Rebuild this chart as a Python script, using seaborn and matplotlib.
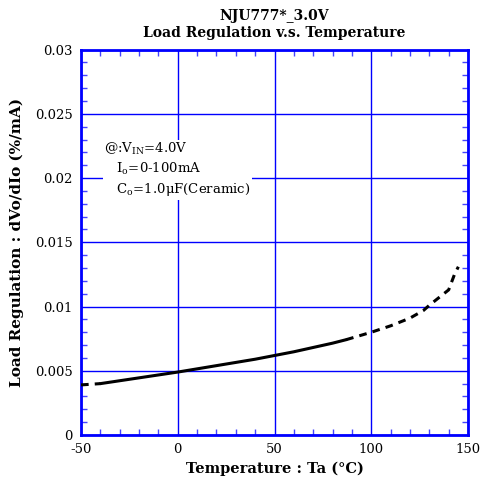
import matplotlib
matplotlib.use('Agg')
import matplotlib.pyplot as plt
from matplotlib.ticker import MultipleLocator
import seaborn as sns
import pandas as pd

# Data
temp_solid = [-40, -20, 0, 20, 40, 60, 80, 87]
reg_solid = [0.00400, 0.00445, 0.00490, 0.00540, 0.00590, 0.00648, 0.00715, 0.00742]
temp_low = [-50, -40]
reg_low = [0.00390, 0.00400]
temp_high = [87, 100, 110, 120, 127, 130, 135, 140, 143, 145]
reg_high = [0.00742, 0.00800, 0.00850, 0.00910, 0.00970, 0.01010, 0.01070, 0.01130, 0.01250, 0.01310]

sns.set_style('white')
plt.rcParams['font.family'] = ['DejaVu Serif']
plt.rcParams['mathtext.fontset'] = 'dejavuserif'
plt.rcParams['text.color'] = 'black'
plt.rcParams['axes.labelcolor'] = 'black'
plt.rcParams['xtick.color'] = 'black'
plt.rcParams['ytick.color'] = 'black'

fig = plt.figure(figsize=(4.84, 4.82), dpi=100)
ax = fig.add_axes([0.1674, 0.0975, 0.7996, 0.7995])

df_solid = pd.DataFrame({'T': temp_solid, 'R': reg_solid})
df_low = pd.DataFrame({'T': temp_low, 'R': reg_low})
df_high = pd.DataFrame({'T': temp_high, 'R': reg_high})

sns.lineplot(data=df_solid, x='T', y='R', ax=ax, color='black', lw=2.2, zorder=5)
for d in (df_low, df_high):
    sns.lineplot(data=d, x='T', y='R', ax=ax, color='black', lw=2.2,
                 linestyle=(0, (2.5, 2)), zorder=5)

ax.set_xlim(-50, 150)
ax.set_ylim(0, 0.03)
ax.xaxis.set_minor_locator(MultipleLocator(10))
ax.yaxis.set_minor_locator(MultipleLocator(0.001))
ax.set_xticks([-50, 0, 50, 100, 150])
ax.set_xticklabels(['-50', '0', '50', '100', '150'])
ax.set_yticks([0, 0.005, 0.01, 0.015, 0.02, 0.025, 0.03])
ax.set_yticklabels(['0', '0.005', '0.01', '0.015', '0.02', '0.025', '0.03'])

ax.grid(True, which='major', color='#0000ff', lw=1)
ax.tick_params(which='major', length=0, labelsize=9.5, pad=6)
ax.tick_params(which='minor', direction='in', length=4, width=1, color='#4444ff',
               top=True, bottom=True, left=True, right=True)
for s in ax.spines.values():
    s.set_color('#0000ff')
    s.set_linewidth(2)

ax.set_xlabel('Temperature : Ta (\u00b0C)', fontsize=10.5, fontweight='bold', labelpad=4)
ax.set_ylabel('Load Regulation : dVo/dIo (%/mA)', fontsize=11, fontweight='bold', labelpad=8)
ax.set_title('NJU777*_3.0V\nLoad Regulation v.s. Temperature', fontsize=10,
             fontweight='bold', pad=9, linespacing=1.25)

ax.text(-38, 0.0229, '@:V$_{\\rm IN}$=4.0V\n   I$_{\\rm o}$=0-100mA\n   C$_{\\rm o}$=1.0\u03bcF(Ceramic)',
        fontsize=9.5, va='top', ha='left', linespacing=1.35, zorder=6,
        bbox=dict(facecolor='white', edgecolor='none', pad=1))

fig.savefig('out.png', dpi=100)
